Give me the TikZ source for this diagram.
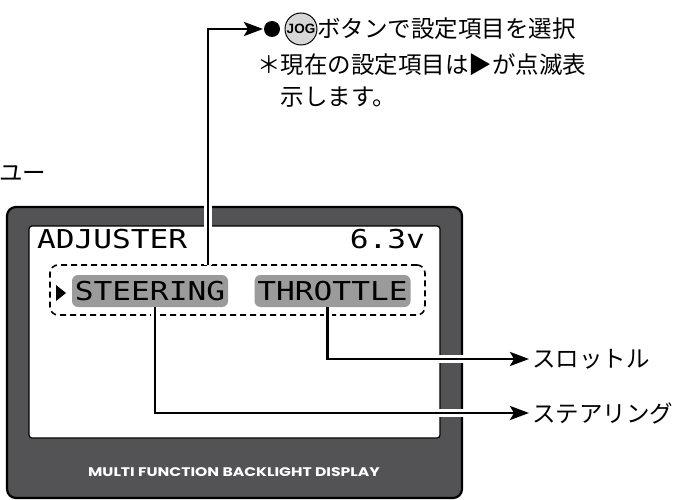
\documentclass[tikz,border=0pt]{standalone}
\usepackage{fontspec}
\usetikzlibrary{arrows.meta,positioning}
\newfontfamily\jpfont{Noto Sans CJK JP}
\newfontfamily\lcdfont[FakeStretch=1.2]{DejaVu Sans Mono}
\newfontfamily\logofont[FakeStretch=1.25]{Poppins}
\newfontfamily\jogfont{Liberation Sans}
\definecolor{lcdframe}{RGB}{83,83,85}
\definecolor{lcdsel}{RGB}{155,155,155}
\definecolor{joggray}{RGB}{215,215,215}

\begin{document}
\begin{tikzpicture}[x=1pt,y=-1pt,every node/.style={inner sep=0pt,outer sep=0pt},
  jp/.style={font=\jpfont\fontsize{23.5}{32}\selectfont},
  lcd/.style={font=\lcdfont\fontsize{26}{28}\selectfont},
  selbox/.style={fill=lcdsel,rounded corners=6pt,minimum width=156pt,minimum height=32pt},
  lead/.style={line width=2.8pt,-{Stealth[length=19pt,width=14pt,inset=4pt]},preaction={draw=white,line width=8pt,arrows=-}}]
        \useasboundingbox (0,0) rectangle (680,500);
        % display body
        \draw[line width=2.2pt,fill=lcdframe,rounded corners=9pt] (7,207) rectangle (462,498);
        \draw[line width=1.2pt,fill=white,rounded corners=3pt] (29,226) rectangle (440,438);
        \node[font=\logofont\bfseries\fontsize{12.5}{12.5}\selectfont,text=white] (brand) at (234,472) {MULTI FUNCTION BACKLIGHT DISPLAY};
        % screen contents
        \node[lcd,anchor=base west] (title) at (37,248) {ADJUSTER};
        \node[lcd,anchor=base east] (volt) at (425,248) {6.3v};
        \node[draw,dashed,dash pattern=on 6pt off 4pt,line width=1.6pt,rounded corners=8pt,minimum width=375pt,minimum height=50pt] (items) at (237.5,290) {};
        \node[selbox,lcd] (steer) at (150,291) {STEERING};
        \node[selbox,lcd] (throt) at (332.5,291) {THROTTLE};
        \fill (56,285) -- (66,293) -- (56,301) -- cycle;
        % jog button note
        \node[circle,fill,minimum size=16pt] (dot) at (272,29) {};
        \node[circle,draw,fill=joggray,line width=1pt,minimum size=32pt,font=\jogfont\bfseries\fontsize{13.5}{13.5}\selectfont] (jog) at (301,29) {JOG};
        \node[jp,right=0pt of jog] (select) {ボタンで設定項目を選択};
        \node[jp,anchor=north west,align=left] (note) at (257,54) {＊現在の設定項目は▶が点滅表\\\phantom{＊}示します。};
        \node[jp,anchor=west] (menu) at (-1,174) {ユー};
        % connectors
        \coordinate (jogtop) at (208,29);
        \coordinate (throtend) at (529,359);
        \coordinate (steerend) at (529,413);
        \node[jp,right=3pt of throtend] (throtlbl) {スロットル};
        \node[jp,right=3pt of steerend] (steerlbl) {ステアリング};
        \draw[lead] (items.north -| jogtop) |- ([xshift=-1pt]dot.west);
        \draw[lead] ([xshift=-5pt]throt.south) |- (throtend);
        \draw[lead] ([xshift=5pt]steer.south) |- (steerend);
      \end{tikzpicture}
\end{document}
